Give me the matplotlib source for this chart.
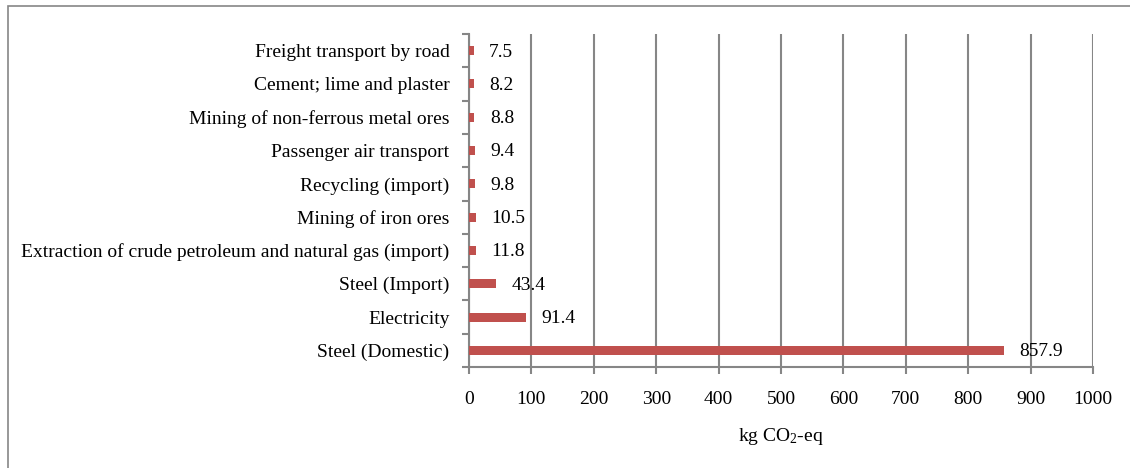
import numpy as np
import matplotlib
matplotlib.use("Agg")
import matplotlib.pyplot as plt
from matplotlib.patches import Rectangle
from matplotlib.transforms import ScaledTranslation

plt.rcParams['font.family'] = ['Liberation Serif', 'DejaVu Serif']
plt.rcParams['mathtext.fontset'] = 'custom'
plt.rcParams['mathtext.rm'] = 'Liberation Serif'
plt.rcParams['mathtext.it'] = 'Liberation Serif:italic'

# categories bottom to top
categories = ["Steel (Domestic)", "Electricity", "Steel (Import)",
              "Extraction of crude petroleum and natural gas (import)",
              "Mining of iron ores", "Recycling (import)",
              "Passenger air transport", "Mining of non-ferrous metal ores",
              "Cement; lime and plaster", "Freight transport by road"]
values = [857.9, 91.4, 43.4, 11.8, 10.5, 9.8, 9.4, 8.8, 8.2, 7.5]
xticks = [0, 100, 200, 300, 400, 500, 600, 700, 800, 900, 1000]

grid_col = '#868686'
bar_col = '#C0504D'
fs = 14

fig = plt.figure(figsize=(11.3, 4.68), dpi=100)
ax = fig.add_axes([469/1130, 1-367/468, (1093-469)/1130, (367-34)/468])

# chart border (right/bottom are cropped in the original)
fig.patches.append(Rectangle((8/1130, -0.1), 1.2, 1-6/468+0.1, transform=fig.transFigure,
                             fill=False, edgecolor=grid_col, linewidth=1.2))

y = np.arange(len(categories))
ax.barh(y, values, height=0.27, color=bar_col, zorder=3)
for yi, v in zip(y, values):
    ax.annotate(f"{v:.1f}", (v, yi), xytext=(11, -1), textcoords='offset points',
                va='center', ha='left', fontsize=fs, zorder=4)

ax.set_xlim(0, 1000)
ax.set_ylim(-0.5, len(categories)-0.5)
ax.set_xticks(xticks)
ax.set_yticks(np.arange(len(categories)+1)-0.5, minor=False)
ax.set_yticklabels([])
ax.set_yticks(y, minor=True)
ax.set_yticklabels(categories, minor=True, fontsize=fs)
# category labels sit a little below the bar centre in the original
shift = ScaledTranslation(0, -3/100, fig.dpi_scale_trans)
for lab in ax.get_yticklabels(minor=True):
    lab.set_transform(lab.get_transform() + shift)
ax.tick_params(axis='y', which='minor', length=0, pad=14)
ax.tick_params(axis='y', which='major', length=5, color=grid_col, width=1.5)
ax.tick_params(axis='x', length=5, color=grid_col, width=1.5, labelsize=fs, pad=12)
ax.xaxis.grid(True, color=grid_col, linewidth=1.5, zorder=0)
for s in ['top', 'right']:
    ax.spines[s].set_visible(False)
for s in ['left', 'bottom']:
    ax.spines[s].set_color(grid_col)
    ax.spines[s].set_linewidth(1.5)
ax.set_xlabel('kg CO$_2$-eq', fontsize=fs, labelpad=13)

fig.savefig('out.png', dpi=100)
